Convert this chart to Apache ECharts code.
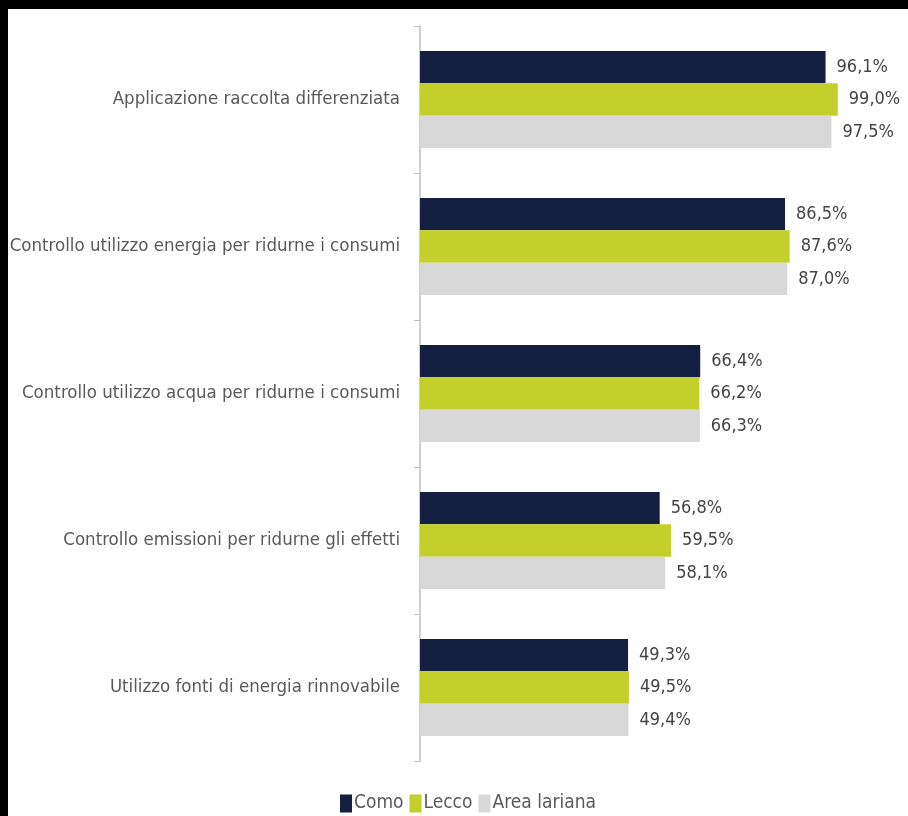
<!DOCTYPE html>
<html><head><meta charset="utf-8">
<script src="https://cdn.jsdelivr.net/npm/echarts@6/dist/echarts.min.js"></script>
<style>html,body{margin:0;padding:0;background:#fff}#c{width:908px;height:816px}</style>
</head><body><div id="c"></div>
<script>
const categories = ["Applicazione raccolta differenziata","Controllo utilizzo energia per ridurne i consumi","Controllo utilizzo acqua per ridurne i consumi","Controllo emissioni per ridurne gli effetti","Utilizzo fonti di energia rinnovabile"];
const como = [96.1, 86.5, 66.4, 56.8, 49.3];
const lecco = [99.0, 87.6, 66.2, 59.5, 49.5];
const areaLariana = [97.5, 87.0, 66.3, 58.1, 49.4];
const seriesNames = ["Como","Lecco","Area lariana"];
const colors = ["#141f42","#c3cf2b","#d9d8d8"];
const FONT = "'Liberation Sans Narrow', 'DejaVu Sans Condensed', sans-serif";
const chart = echarts.init(document.getElementById('c'));
const fmt = p => p.value.toFixed(1).replace('.', ',') + '%';
const mk = (name, data, color) => ({
  name, type: 'bar', data, barGap: '0%', barCategoryGap: '34%',
  itemStyle: {color},
  label: {show: true, position: 'right', distance: 11, formatter: fmt, fontFamily: FONT, fontSize: 18, color: '#444444'}
});
chart.setOption({
  animation: false,
  backgroundColor: '#fff',
  textStyle: {fontFamily: FONT},
  grid: {left: 420, top: 26, right: 66, bottom: 55, containLabel: false, outerBoundsMode: 'none'},
  xAxis: {type: 'value', min: 0, max: 100, show: false},
  yAxis: {type: 'category', data: categories, inverse: true,
    axisLine: {lineStyle: {color: '#bfbfbf', width: 1.5}},
    axisTick: {show: true, length: 6, lineStyle: {color: '#bfbfbf'}},
    axisLabel: {margin: 20, fontFamily: FONT, fontSize: 18.5, color: '#595959'}},
  legend: {bottom: 3, left: 340, padding: 0, itemWidth: 12, itemHeight: 18, itemGap: 6,
    icon: 'rect', textStyle: {fontFamily: FONT, fontSize: 19, color: '#595959', padding: [0,0,0,-3]}},
  series: [mk(seriesNames[0], como, colors[0]), mk(seriesNames[1], lecco, colors[1]), mk(seriesNames[2], areaLariana, colors[2])],
  graphic: [
    {type: 'rect', left: 0, top: 0, shape: {width: 908, height: 9}, style: {fill: '#000'}},
    {type: 'rect', left: 0, top: 0, shape: {width: 8, height: 816}, style: {fill: '#000'}}
  ]
});
</script></body></html>
